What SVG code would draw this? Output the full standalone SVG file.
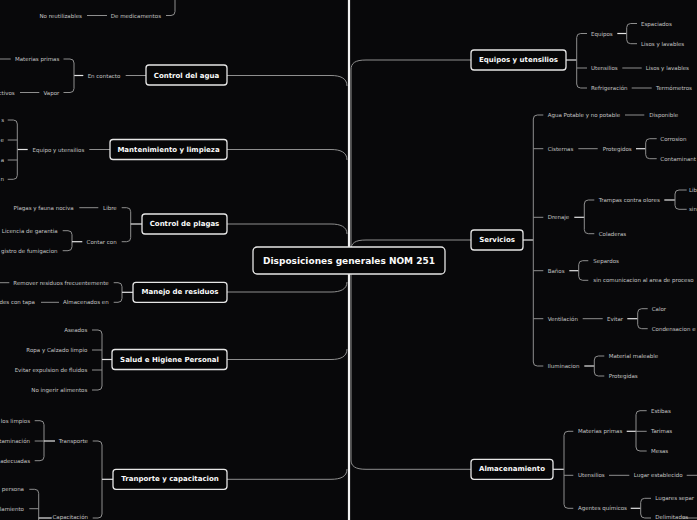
<svg xmlns="http://www.w3.org/2000/svg" width="697" height="520" viewBox="0 0 697 520">
<style>
.c{fill:none;stroke:#8e8e8e;stroke-width:1}
.j{fill:none;stroke:#e4e4e4;stroke-width:1.2}
.sp{fill:none;stroke:#f2f2f2;stroke-width:2.2}
.t{font-family:"DejaVu Sans",sans-serif;font-size:5.5px;fill:#c4c4c4;dominant-baseline:central}
.e{text-anchor:end}
.n rect{fill:#060607;stroke:#e6e6e6;stroke-width:1.3}
.n text{font-family:"DejaVu Sans",sans-serif;font-weight:bold;font-size:7px;fill:#fafafa;text-anchor:middle;dominant-baseline:central}
#center text{font-size:9px}
</style>
<rect width="697" height="520" fill="#08080a"/>
<g id="connectors">
<path class="sp" d="M349,0 V520"/>
<path class="c" d="M227,75.5 H331 C340,75.5 347,78 347,86"/>
<path class="c" d="M227,149.5 H331 C340,149.5 347,152 347,160"/>
<path class="c" d="M227,224 H331 C340,224 347,226.5 347,234"/>
<path class="c" d="M227,292 H331 C340,292 347,289.5 347,282"/>
<path class="c" d="M227,359.5 H331 C340,359.5 347,357 347,349"/>
<path class="c" d="M227,479.3 H331 C340,479.3 347,477 347,469"/>
<path class="c" d="M351,70 C351,63 355,60 366,60 H471"/>
<path class="c" d="M351,70 V460"/>
<path class="c" d="M351,250 C351,243 355,240 366,240 H471"/>
<path class="c" d="M351,460 C351,466 355,469.3 366,469.3 H471"/>
<path class="c" d="M87,15.5 H107"/>
<path class="c" d="M166,15.5 H171 Q175,15.5 175,11.5 V0"/>
<path class="c" d="M125.7,75.5 H146"/>
<path class="j" d="M74,75.5 H83.3"/>
<path class="c" d="M63.5,59 H70 Q74,59 74,63 V88.5 Q74,92.5 70,92.5 H63.5"/>
<path class="c" d="M0,59 H10.7 M20,92.5 H39.3"/>
<path class="c" d="M89.3,149.5 H110"/>
<path class="j" d="M17.3,149.5 H27.7"/>
<path class="c" d="M7.7,120 H13.3 Q17.3,120 17.3,124 V175.3 Q17.3,179.3 13.3,179.3 H7.7 M17.3,140 H7.7 M17.3,160 H7.7"/>
<path class="c" d="M121.7,207.7 H126.7 Q130.7,207.7 130.7,211.7 V237.7 Q130.7,241.7 126.7,241.7 H121.7"/>
<path class="j" d="M130.7,224 H142"/>
<path class="c" d="M79.3,207.7 H98.3"/>
<path class="c" d="M62.7,230.7 H68 Q72,230.7 72,234.7 V246.7 Q72,250.7 68,250.7 H62.7"/>
<path class="j" d="M72,241.7 H82.3"/>
<path class="c" d="M113.7,282.7 H118 Q122,282.7 122,286.7 V298.3 Q122,302.3 118,302.3 H113.7"/>
<path class="j" d="M122,292.3 H133"/>
<path class="c" d="M0,282.7 H9.3 M41,302.3 H59"/>
<path class="c" d="M92,330 H98 Q102,330 102,334 V386 Q102,390 98,390 H92 M102,350 H92 M102,370 H92"/>
<path class="j" d="M102,359.5 H112"/>
<path class="c" d="M92.7,441 H98 Q102,441 102,445 V514 Q102,518 98,518 H92.7"/>
<path class="j" d="M102,479.3 H113"/>
<path class="c" d="M34.7,420.7 H40 Q44,420.7 44,424.7 V456.7 Q44,460.7 40,460.7 H34.7 M44,441 H34.7"/>
<path class="j" d="M44,441 H55"/>
<path class="c" d="M29.3,489.3 H34.7 Q38.7,489.3 38.7,493.3 V520 M38.7,508.7 H29.3"/>
<path class="j" d="M38.7,518 H51.7"/>
<path class="j" d="M566,60 H576.7"/>
<path class="c" d="M587,33.5 H580.7 Q576.7,33.5 576.7,37.5 V84 Q576.7,88 580.7,88 H587 M576.7,68 H587"/>
<path class="j" d="M617.3,33.5 H626.7"/>
<path class="c" d="M637,23.5 H630.7 Q626.7,23.5 626.7,27.5 V39.7 Q626.7,43.7 630.7,43.7 H637"/>
<path class="c" d="M622.3,68 H641.7 M631.7,88 H651.7"/>
<path class="j" d="M523,240 H533.3"/>
<path class="c" d="M543.3,115 H537.3 Q533.3,115 533.3,119 V362 Q533.3,366 537.3,366 H543.3 M533.3,148.7 H543.3 M533.3,217.3 H543.3 M533.3,270.7 H543.3 M533.3,318.7 H543.3"/>
<path class="c" d="M625,115 H644.3 M578.3,148.7 H597.7"/>
<path class="j" d="M636,148.7 H645.7"/>
<path class="c" d="M656.7,138.7 H649.7 Q645.7,138.7 645.7,142.7 V154.7 Q645.7,158.7 649.7,158.7 H656.7"/>
<path class="j" d="M574.3,217.3 H584.3"/>
<path class="c" d="M594.3,200 H588.3 Q584.3,200 584.3,204 V229.7 Q584.3,233.7 588.3,233.7 H594.3"/>
<path class="j" d="M664.3,200 H675"/>
<path class="c" d="M686.7,190 H679 Q675,190 675,194 V205.3 Q675,209.3 679,209.3 H686.7"/>
<path class="j" d="M569.3,270.7 H578.7"/>
<path class="c" d="M588.3,260.7 H582.7 Q578.7,260.7 578.7,264.7 V276.3 Q578.7,280.3 582.7,280.3 H588.3"/>
<path class="c" d="M582.7,318.7 H602.7"/>
<path class="j" d="M627.3,318.7 H637.7"/>
<path class="c" d="M647.7,308.7 H641.7 Q637.7,308.7 637.7,312.7 V324.7 Q637.7,328.7 641.7,328.7 H647.7"/>
<path class="j" d="M584.3,366 H594.3"/>
<path class="c" d="M604.3,356 H598.3 Q594.3,356 594.3,360 V372 Q594.3,376 598.3,376 H604.3"/>
<path class="j" d="M553,469.3 H564"/>
<path class="c" d="M573.3,431.3 H568 Q564,431.3 564,435.3 V504.3 Q564,508.3 568,508.3 H573.3 M564,475.3 H573.3"/>
<path class="j" d="M626.7,431.3 H636"/>
<path class="c" d="M646.7,410.7 H640 Q636,410.7 636,414.7 V447 Q636,451 640,451 H646.7 M636,431.3 H646.7"/>
<path class="c" d="M609,475.3 H629.3 M686.7,475.3 H697"/>
<path class="j" d="M630.7,508.3 H640.7"/>
<path class="c" d="M651,498.3 H644.7 Q640.7,498.3 640.7,502.3 V514 Q640.7,518 644.7,518 H651 M682.7,518 H697"/>
</g>
<g id="leaves">
<text class="t e" x="82" y="15.5">No reutilizables</text>
<text class="t e" x="161" y="15.5">De medicamentos</text>
<text class="t e" x="120.3" y="75.5">En contacto</text>
<text class="t e" x="59.3" y="59">Materias primas</text>
<text class="t e" x="59.3" y="92.5">Vapor</text>
<text class="t e" x="14.7" y="92.5">ctivos</text>
<text class="t e" x="84.3" y="149.5">Equipo y utensilios</text>
<text class="t e" x="4" y="120">s</text>
<text class="t e" x="4" y="140">e</text>
<text class="t e" x="4" y="160">a</text>
<text class="t e" x="4" y="179.3">n</text>
<text class="t e" x="116.7" y="207.7">Libre</text>
<text class="t e" x="73.7" y="207.7">Plagas y fauna nociva</text>
<text class="t e" x="116.7" y="241.7">Contar con</text>
<text class="t e" x="57.7" y="230.7">Licencia de garantia</text>
<text class="t e" x="57.5" y="251">gistro de fumigacion</text>
<text class="t e" x="108.7" y="282.7">Remover residuos frecuentemente</text>
<text class="t e" x="108.7" y="302.3">Almacenados en</text>
<text class="t e" x="35" y="302.3">des con tapa</text>
<text class="t e" x="87.3" y="330">Aseados</text>
<text class="t e" x="87.3" y="350">Ropa y Calzado limpio</text>
<text class="t e" x="87.3" y="370">Evitar expulsion de fluidos</text>
<text class="t e" x="87.3" y="390">No ingerir alimentos</text>
<text class="t e" x="88" y="441">Transporte</text>
<text class="t e" x="88" y="517">Capacitación</text>
<text class="t e" x="30" y="420.7">los limpios</text>
<text class="t e" x="30" y="441">taminación</text>
<text class="t e" x="30" y="460.7">adecuadas</text>
<text class="t e" x="24" y="489.3">persona</text>
<text class="t e" x="24" y="508.7">lamiento</text>
<text class="t" x="591" y="33.5">Equipos</text>
<text class="t" x="591" y="68">Utensilios</text>
<text class="t" x="591" y="88">Refrigeración</text>
<text class="t" x="641" y="23.5">Espaciados</text>
<text class="t" x="641" y="43.7">Lisos y lavables</text>
<text class="t" x="645.7" y="68">Lisos y lavables</text>
<text class="t" x="656" y="88">Termómetros</text>
<text class="t" x="547.7" y="115">Agua Potable y no potable</text>
<text class="t" x="649.3" y="115">Disponible</text>
<text class="t" x="547.7" y="148.7">Cisternas</text>
<text class="t" x="602.7" y="148.7">Protegidos</text>
<text class="t" x="660.3" y="138.7">Corrosion</text>
<text class="t" x="660.3" y="158.7">Contaminant</text>
<text class="t" x="547.7" y="217.3">Drenaje</text>
<text class="t" x="598.7" y="200">Trampas contra olores</text>
<text class="t" x="598.7" y="233.7">Coladeras</text>
<text class="t" x="689" y="190">Lib</text>
<text class="t" x="689" y="209.3">sin</text>
<text class="t" x="547.7" y="270.7">Baños</text>
<text class="t" x="593.3" y="260.7">Separdos</text>
<text class="t" x="593.3" y="280.3">sin comunicacion al area de proceso</text>
<text class="t" x="547.7" y="318.7">Ventilación</text>
<text class="t" x="607" y="318.7">Evitar</text>
<text class="t" x="651.7" y="308.7">Calor</text>
<text class="t" x="651.7" y="328.7">Condensacion e</text>
<text class="t" x="547.7" y="366">Iluminacion</text>
<text class="t" x="608.7" y="356">Material maleable</text>
<text class="t" x="608.7" y="376">Protegidas</text>
<text class="t" x="578" y="431.3">Materias primas</text>
<text class="t" x="651" y="410.7">Estibas</text>
<text class="t" x="651" y="431.3">Tarimas</text>
<text class="t" x="651" y="451">Mesas</text>
<text class="t" x="578" y="475.3">Utensilios</text>
<text class="t" x="633.7" y="475.3">Lugar establecido</text>
<text class="t" x="578" y="508.3">Agentes químicos</text>
<text class="t" x="655.3" y="498.3">Lugares separ</text>
<text class="t" x="655.3" y="517">Delimitados</text>
</g>
<g id="control-agua" class="n"><rect x="146" y="65" width="81" height="20" rx="3"/><text x="186.5" y="75.5">Control del agua</text></g>
<g id="mantenimiento" class="n"><rect x="110" y="139.5" width="117" height="20" rx="3"/><text x="168.5" y="149.5">Mantenimiento y limpieza</text></g>
<g id="control-plagas" class="n"><rect x="142" y="214" width="85" height="20" rx="3"/><text x="184.5" y="224">Control de plagas</text></g>
<g id="manejo-residuos" class="n"><rect x="133" y="282.3" width="94" height="20" rx="3"/><text x="180" y="292.3">Manejo de residuos</text></g>
<g id="salud" class="n"><rect x="112" y="349.5" width="115" height="20" rx="3"/><text x="169.5" y="359.5">Salud e Higiene Personal</text></g>
<g id="tranporte" class="n"><rect x="113" y="469.3" width="114" height="20" rx="3"/><text x="170" y="479.3">Tranporte y capacitacion</text></g>
<g id="equipos" class="n"><rect x="471" y="50" width="95" height="20" rx="3"/><text x="518.5" y="60">Equipos y utensilios</text></g>
<g id="servicios" class="n"><rect x="471" y="230" width="52" height="20" rx="3"/><text x="497" y="240">Servicios</text></g>
<g id="almacenamiento" class="n"><rect x="471" y="459.3" width="82" height="20" rx="3"/><text x="512" y="469.3">Almacenamiento</text></g>
<g id="center" class="n"><rect x="253" y="247" width="192" height="27" rx="4"/><text x="349" y="261">Disposiciones generales NOM 251</text></g>
</svg>
